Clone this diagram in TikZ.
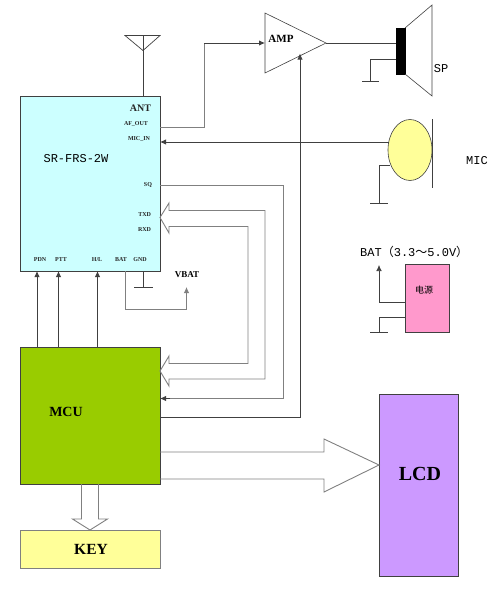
\documentclass[tikz,border=0pt]{standalone}
\usepackage{fontspec}
\setmainfont{Liberation Serif}
\setmonofont{Liberation Mono}
\newfontfamily\cjk{Noto Sans CJK SC}
\usetikzlibrary{arrows.meta,shapes.geometric}
\definecolor{lnk}{HTML}{404040}
\definecolor{lng}{HTML}{808080}
\definecolor{cCyan}{HTML}{CCFFFF}
\definecolor{cGreen}{HTML}{99CC00}
\definecolor{cYel}{HTML}{FFFF99}
\definecolor{cPur}{HTML}{CC99FF}
\definecolor{cPink}{HTML}{FF99CC}
\tikzset{
  x=1pt,y=-1pt,
  boxn/.style={draw=lnk,line width=0.9pt,inner sep=0,outer sep=0,anchor=north west},
  lab/.style={inner sep=0,outer sep=0,font=\bfseries\fontsize{6}{7}\selectfont,text=black!85},
  big/.style={inner sep=0,outer sep=0,font=\bfseries\fontsize{14}{16}\selectfont},
  mono/.style={inner sep=0,outer sep=0,font=\ttfamily\fontsize{12}{14}\selectfont},
  dk/.style={draw=lnk,line width=0.9pt},
  gr/.style={draw=lng,line width=0.9pt},
  thn/.style={draw=lnk,line width=0.6pt},
  arr/.style={-{Latex[length=6pt,width=5.5pt]}},
  hollow/.style={draw=lng,line width=0.9pt,line join=miter},
}
\begin{document}
\begin{tikzpicture}
\useasboundingbox (0,0) rectangle (504,590);
% blocks
\node[boxn,fill=cCyan,minimum width=140pt,minimum height=174.5pt] (sr) at (20,96.5) {};
\node[boxn,fill=cGreen,minimum width=140pt,minimum height=137pt] (mcu) at (20,347) {};
\node[boxn,draw=lng,fill=cYel,minimum width=140pt,minimum height=38pt] (key) at (20,530) {};
\node[boxn,fill=cPur,minimum width=79pt,minimum height=182pt] (lcd) at (379,394) {};
\node[boxn,fill=cPink,minimum width=44pt,minimum height=68pt] (pwr) at (405,264) {};
% amp
\coordinate (ampA) at (265,13); \coordinate (ampB) at (265,73); \coordinate (ampC) at (326,43);
\draw[thn] (ampA) -- (ampB) -- (ampC) -- cycle;
\coordinate (ampIn) at (265,43);
\coordinate (ampLow) at (300,53.5);
% speaker
\node[boxn,draw=black,fill=black,minimum width=9pt,minimum height=46pt] (coil) at (396,28) {};
\draw[thn] (coil.north east) -- (432,5) -- (432,96) -- (coil.south east);
\draw[thn] (ampC) -- (coil.west |- ampC);
\draw[thn] (coil.west |- 0,59) -- (370,59) -- (370,81);
\draw[thn] (362,81) -- (379,81);
% mic
\node[draw=lnk,line width=0.6pt,fill=cYel,ellipse,inner sep=0,outer sep=0,minimum width=44pt,minimum height=61pt] (mic) at (410,150) {};
\draw[thn] (432,119) -- (432,188);
\draw[thn] (389.5,165) -- (379,165) -- (379,203);
\draw[thn] (370,203) -- (388,203);
% battery
\draw[thn,arr] (pwr.west |- 0,302) -- (379,302) -- (379,265);
\draw[thn] (pwr.west |- 0,317) -- (379,317) -- (379,332);
\draw[thn] (370,332) -- (388,332);
% antenna
\draw[dk,line width=0.7pt] (125,35.5) -- (160,35.5) -- (143,50.5) -- cycle;
\draw[dk,line width=0.7pt] (143,35.5) -- (sr.north -| 143,0);
% pin labels
\node[lab,font=\bfseries\fontsize{10}{11}\selectfont,anchor=east] (tAnt) at (151,108.5) {ANT};
\node[lab,anchor=east] (tAf) at (148,123.5) {AF\_OUT};
\node[lab,anchor=east] (tMic) at (150,139) {MIC\_IN};
\node[lab,anchor=east] (tSq) at (152,184.5) {SQ};
\node[lab,anchor=east] (tTx) at (151,215) {TXD};
\node[lab,anchor=east] (tRx) at (151,230) {RXD};
\node[lab] (tPdn) at (40,260) {PDN};
\node[lab] (tPtt) at (61,260) {PTT};
\node[lab] (tHl) at (97,260) {H/L};
\node[lab] (tBat) at (121,260) {BAT};
\node[lab] (tGnd) at (140,260) {GND};
\node[mono] (tSr) at (76,158.5) {SR-FRS-2W};
% other text
\node[inner sep=0,font=\bfseries\fontsize{11}{13}\selectfont] (tAmp) at (281,38.5) {AMP};
\node[mono] (tSp) at (441,69) {SP};
\node[mono] (tMc) at (477,161) {MIC};
\node[inner sep=0,font=\bfseries\fontsize{9}{11}\selectfont] (tVb) at (187,275) {VBAT};
\node[inner sep=0,anchor=west,font=\ttfamily\fontsize{12}{14}\selectfont] (tBt) at (360,252) {BAT{\cjk（}3.3{\cjk～}5.0V{\cjk）}};
\node[inner sep=0,font=\cjk\fontsize{9}{10}\selectfont] (tPw) at (424,290) {电源};
\node[big] (tMcu) at (66,412) {MCU};
\node[big,font=\bfseries\fontsize{15.5}{18}\selectfont] (tKey) at (91,549) {KEY};
\node[big,font=\bfseries\fontsize{20}{22}\selectfont] (tLcd) at (420,474) {LCD};
% SR <-> MCU control
\draw[dk,arr] (mcu.north -| 37,0) -- (sr.south -| 37,0);
\draw[dk,arr] (mcu.north -| 58.5,0) -- (sr.south -| 58.5,0);
\draw[dk,arr] (mcu.north -| 97.5,0) -- (sr.south -| 97.5,0);
% gnd
\draw[dk,line width=0.7pt] (sr.south -| 143,0) -- (143,287);
\draw[dk,line width=0.7pt] (134,287) -- (153,287);
% BAT -> VBAT
\draw[gr,arr] (sr.south -| 125,0) -- (125,309.5) -- (186.5,309.5) -- (186.5,287);
% AF_OUT -> AMP
\draw[gr] (sr.east |- 0,127) -- (204,127) -- (204,43);
\draw[dk,arr] (204,43) -- (ampIn);
% MIC -> SR
\draw[dk,arr] (389,142) -- (sr.east |- 0,142);
% SQ -> MCU
\draw[gr] (sr.east |- 0,185.5) -- (283,185.5) -- (283,398.5) -- (170,398.5);
\draw[dk,arr] (170,398.5) -- (mcu.east |- 0,398.5);
% MCU -> AMP
\draw[dk,arr] (mcu.east |- 0,417) -- (300,417) -- (ampLow);
% hollow bus SR <-> MCU
\draw[hollow] (265,379) -- (265,210.5) -- (169,210.5) -- (169,203) -- (sr.east |- 0,217.5) -- (169,233) -- (169,226.5) -- (248,226.5) -- (248,363.5) -- (169,363.5) -- (169,356) -- (mcu.east |- 0,371) -- (169,386) -- (169,379) -- cycle;
% MCU -> KEY
\draw[hollow] (81.5,484) -- (81.5,519) -- (72.5,519) -- (key.north -| 90,0) -- (107.5,519) -- (98.5,519) -- (98.5,484);
% MCU -> LCD
\draw[hollow] (mcu.east |- 0,452) -- (324,452) -- (324,439) -- (lcd.west |- 0,465) -- (324,492) -- (324,479) -- (mcu.east |- 0,479);
\end{tikzpicture}
\end{document}
